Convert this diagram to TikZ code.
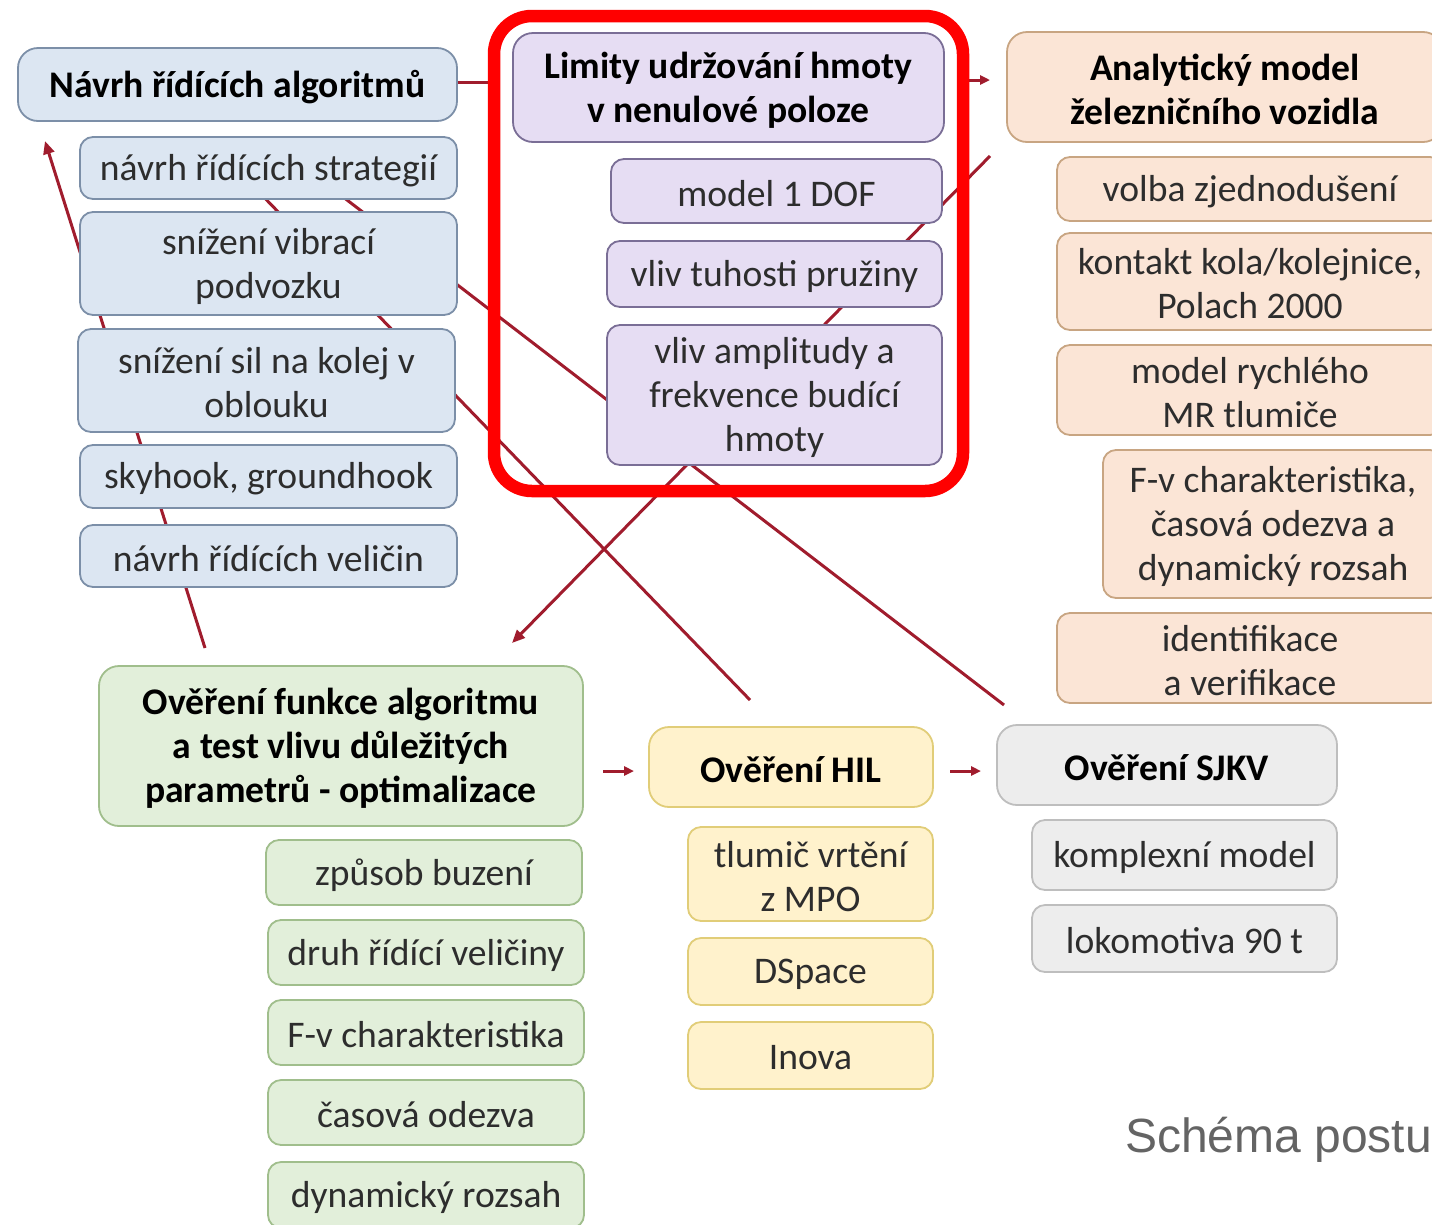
\documentclass[tikz,border=0pt]{standalone}
\usepackage{fontspec}
\setmainfont{Carlito}
\newfontfamily\capfont{Liberation Sans}
\usetikzlibrary{arrows.meta,calc}

\definecolor{bluef}{RGB}{220,230,242}
\definecolor{blued}{RGB}{124,143,168}
\definecolor{purf}{RGB}{230,221,243}
\definecolor{purd}{RGB}{122,110,150}
\definecolor{orf}{RGB}{251,229,214}
\definecolor{ord}{RGB}{200,165,130}
\definecolor{grf}{RGB}{226,239,218}
\definecolor{grd}{RGB}{160,190,140}
\definecolor{yef}{RGB}{255,242,204}
\definecolor{yed}{RGB}{225,205,120}
\definecolor{gyf}{RGB}{237,237,237}
\definecolor{gyd}{RGB}{190,190,190}
\definecolor{lin}{RGB}{160,28,45}
\definecolor{txt}{RGB}{45,45,45}
\definecolor{capgray}{RGB}{100,100,100}

% box given by its two corners: name, style, x1, y1, x2, y2, text
% the text sits a little below the geometric centre of the box
\newcommand\cbox[7]{%
  \pgfmathsetmacro\cbW{#5-#3}%
  \pgfmathsetmacro\cbH{#6-#4}%
  \pgfmathsetmacro\cbX{(#3+#5)/2}%
  \pgfmathsetmacro\cbY{(#4+#6)/2}%
  \node[#2, minimum width=\cbW pt, minimum height=\cbH pt] (#1) at (\cbX,\cbY) {};
  \node[#2, draw=none, fill=none] (#1-t) at ($(#1.center)+(0,2.5)$) {#7};}

\begin{document}
\begin{tikzpicture}[x=1pt,y=-1pt,
  box/.style={draw, line width=1.8pt, rounded corners=13pt, align=center,
    inner sep=0pt, text=txt, font=\fontsize{37.6}{44}\selectfont},
  head/.style={box, rounded corners=20pt, text=black,
    font=\fontsize{37.6}{44}\selectfont\bfseries},
  blue/.style={fill=bluef, draw=blued},
  purple/.style={fill=purf, draw=purd},
  peach/.style={fill=orf, draw=ord},
  green/.style={fill=grf, draw=grd},
  yellow/.style={fill=yef, draw=yed},
  grey/.style={fill=gyf, draw=gyd},
  conn/.style={draw=lin, line width=3pt},
  longarrow/.style={conn, -{Triangle[length=13pt,width=11pt]}},
  shortarrow/.style={conn, -{Triangle[length=10pt,width=9pt]}}
]
\useasboundingbox (0,0) rectangle (1432,1224);
\clip (0,0) rectangle (1432,1224);
\fill[white] (0,0) rectangle (1432,1224);

% end points of the long connectors
\coordinate (l1a) at (228,160);
\coordinate (l1b) at (750,700);
\coordinate (l2a) at (295,160);
\coordinate (l2b) at (1004,705);
\coordinate (l3a) at (990,156);
\coordinate (l3b) at (512,643);
\coordinate (l4a) at (205,648);
\coordinate (l4b) at (45,141);

% long connectors, running behind the boxes
\draw[conn] (l1a) -- (l1b);
\draw[conn] (l2a) -- (l2b);
\draw[longarrow] (l3a) -- (l3b);
\draw[longarrow] (l4a) -- (l4b);

% control algorithms
\cbox{n1}{head,blue}{18}{48}{457}{121}{Návrh řídících algoritmů}
\cbox{n2}{box,blue}{80}{137}{457}{199}{návrh řídících strategií}
\cbox{n3}{box,blue}{80}{212}{457}{315}{snížení vibrací\\podvozku}
\cbox{n4}{box,blue}{78}{329}{455}{432}{snížení sil na kolej v\\oblouku}
\cbox{n5}{box,blue}{80}{445}{457}{508}{skyhook, groundhook}
\cbox{n6}{box,blue}{80}{525}{457}{587}{návrh řídících veličin}

% mass holding limits
\cbox{p1}{head,purple}{513}{33}{944}{142}{Limity udržování hmoty\\v nenulové poloze}
\cbox{p2}{box,purple}{611}{159}{942}{223}{model 1 DOF}
\cbox{p3}{box,purple}{607}{241}{942}{307}{vliv tuhosti pružiny}
\cbox{p4}{box,purple}{607}{325}{942}{465}{vliv amplitudy a\\frekvence budící\\hmoty}

% vehicle model
\cbox{a1}{head,peach}{1007}{32}{1443}{142}{Analytický model\\železničního vozidla}
\cbox{a2}{box,peach}{1057}{157}{1443}{221}{volba zjednodušení}
\cbox{a3}{box,peach}{1057}{233}{1443}{330}{kontakt kola/kolejnice,\\Polach 2000}
\cbox{a4}{box,peach}{1057}{345}{1443}{435}{model rychlého\\MR tlumiče}
\cbox{a5}{box,peach}{1103}{450}{1443}{598}{F-v charakteristika,\\časová odezva a\\dynamický rozsah}
\cbox{a6}{box,peach}{1057}{613}{1443}{703}{identifikace\\a verifikace}

% algorithm verification
\cbox{g1}{head,green}{99}{666}{583}{826}{Ověření funkce algoritmu\\a test vlivu důležitých\\parametrů - optimalizace}
\cbox{g2}{box,green}{266}{840}{582}{905}{způsob buzení}
\cbox{g3}{box,green}{268}{920}{584}{985}{druh řídící veličiny}
\cbox{g4}{box,green}{268}{1000}{584}{1065}{F-v charakteristika}
\cbox{g5}{box,green}{268}{1080}{584}{1145}{časová odezva}
\cbox{g6}{box,green}{268}{1162}{584}{1228}{dynamický rozsah}

% HIL
\cbox{h1}{head,yellow}{649}{727}{933}{807}{Ověření HIL}
\cbox{h2}{box,yellow}{688}{827}{933}{921}{tlumič vrtění\\z MPO}
\cbox{h3}{box,yellow}{688}{938}{933}{1005}{DSpace}
\cbox{h4}{box,yellow}{688}{1022}{933}{1089}{Inova}

% SJKV
\cbox{s1}{head,grey}{997}{725}{1337}{805}{Ověření SJKV}
\cbox{s2}{box,grey}{1032}{820}{1337}{890}{komplexní model}
\cbox{s3}{box,grey}{1032}{905}{1337}{972}{lokomotiva 90 t}

% short arrows between the main steps
\coordinate (q1) at (500,82);
\coordinate (q2a) at (958,80);
\coordinate (q2b) at (990,80);
\coordinate (q3a) at (603,771);
\coordinate (q3b) at (634,771);
\coordinate (q4a) at (950,771);
\coordinate (q4b) at (981,771);
\draw[shortarrow] (n1.east |- q1) -- (q1);
\draw[shortarrow] (q2a) -- (q2b);
\draw[shortarrow] (q3a) -- (q3b);
\draw[shortarrow] (q4a) -- (q4b);

% highlight frame
\draw[red, line width=12.5pt, rounded corners=38pt] (494,16) rectangle (963,491);

% caption
\node[anchor=base west, inner sep=0pt, text=capgray,
  font=\capfont\fontsize{48}{57}\selectfont] (cap) at (1125,1152) {Schéma postu};
\end{tikzpicture}
\end{document}
